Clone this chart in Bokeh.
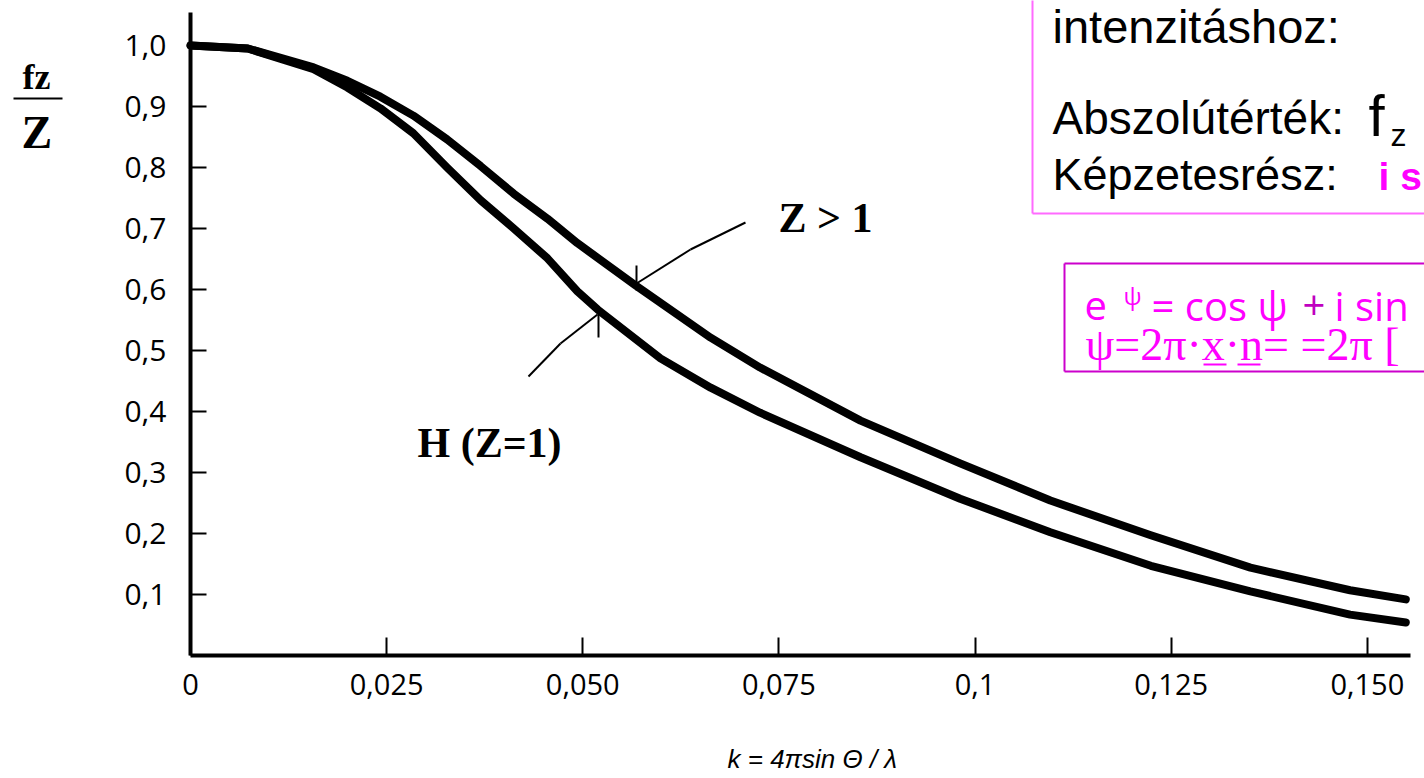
from bokeh.plotting import figure
from bokeh.models import Label, FixedTicker, Arrow, LinearAxis, Range1d
from bokeh.embed import file_html
from bokeh.resources import INLINE

# ---- data ----
k_zgt1 = [0.0, 0.0073, 0.0157, 0.0200, 0.0242, 0.0284, 0.0327, 0.0370, 0.0412, 0.0455,
          0.0493, 0.0567, 0.0663, 0.0726, 0.0854, 0.0981, 0.1096, 0.1224, 0.1351, 0.1478, 0.1549]
f_zgt1 = [1.0, 0.995, 0.964, 0.942, 0.916, 0.885, 0.846, 0.802, 0.757, 0.716,
          0.676, 0.607, 0.521, 0.472, 0.385, 0.315, 0.254, 0.197, 0.144, 0.107, 0.092]

k_h = [0.0, 0.0073, 0.0157, 0.0200, 0.0242, 0.0284, 0.0327, 0.0370, 0.0412, 0.0455, 0.0493,
       0.0519, 0.0599, 0.0663, 0.0726, 0.0854, 0.0981, 0.1096, 0.1224, 0.1351, 0.1478, 0.1549]
f_h = [1.0, 0.995, 0.961, 0.931, 0.897, 0.856, 0.800, 0.746, 0.700, 0.651, 0.597,
       0.567, 0.487, 0.439, 0.398, 0.325, 0.257, 0.202, 0.147, 0.105, 0.067, 0.054]

x_ticks = [0.0, 0.025, 0.05, 0.075, 0.1, 0.125, 0.15]
x_tick_labels = ["0", "0,025", "0,050", "0,075", "0,1", "0,125", "0,150"]
y_ticks = [0.1, 0.2, 0.3, 0.4, 0.5, 0.6, 0.7, 0.8, 0.9, 1.0]
y_tick_labels = ["0,1", "0,2", "0,3", "0,4", "0,5", "0,6", "0,7", "0,8", "0,9", "1,0"]

# ---- layout: the frame fills the canvas; axes sit at fixed locations ----
W, H = 1424, 778
AL, AR, AT, AB = 190, 1410, 12, 655      # pixel extent of the plotted axes
KMAX, FMAX = 0.1555, 1.054               # axis ends


def dx(px):
    return (px - AL) / (AR - AL) * KMAX


def dy(py):
    return (AB - py) / (AB - AT) * FMAX


p = figure(width=W, height=H,
           x_range=Range1d(dx(0), dx(W)), y_range=Range1d(dy(H), dy(0)),
           x_axis_location=None, y_axis_location=None, min_border=0,
           output_backend="svg", toolbar_location=None)
p.outline_line_color = None
for g in p.grid:
    g.visible = False
p.background_fill_color = "white"
p.border_fill_color = "white"

xaxis = LinearAxis(fixed_location=0, bounds=(0, KMAX), ticker=FixedTicker(ticks=x_ticks),
                   major_label_overrides=dict(zip(x_ticks, x_tick_labels)))
yaxis = LinearAxis(fixed_location=0, bounds=(0, FMAX), ticker=FixedTicker(ticks=y_ticks),
                   major_label_overrides=dict(zip(y_ticks, y_tick_labels)))
for ax in (xaxis, yaxis):
    ax.axis_line_width = 4
    ax.axis_line_color = "black"
    ax.major_tick_line_width = 2
    ax.major_tick_line_color = "black"
    ax.major_tick_out = 0
    ax.minor_tick_line_color = None
    ax.major_label_text_font = "Open Sans"
    ax.major_label_text_color = "black"
xaxis.major_label_text_font_size = "29px"
xaxis.major_tick_in = 18
xaxis.major_label_standoff = 18
yaxis.major_label_text_font_size = "30px"
yaxis.major_tick_in = 16
yaxis.major_label_standoff = 24
p.add_layout(xaxis, "below")
p.add_layout(yaxis, "left")

# ---- curves ----
p.line(k_zgt1, f_zgt1, line_width=8, line_color="black", line_join="round", line_cap="round")
p.line(k_h, f_h, line_width=8, line_color="black", line_join="round", line_cap="round")


def seg(x1, y1, x2, y2, color="black", width=2):
    p.add_layout(Arrow(x_start=dx(x1), y_start=dy(y1), x_end=dx(x2), y_end=dy(y2),
                       end=None, line_color=color, line_width=width))


def lab(px, py, text, font="Liberation Serif", size=42, style="bold", color="black"):
    # py is the wanted baseline in pixels; small empirical lift for the renderer
    p.add_layout(Label(x=dx(px), y=dy(py - 0.33 * size), text=text, text_font=font,
                       text_font_size=f"{size}px", text_font_style=style,
                       text_color=color, text_align="left", text_baseline="alphabetic"))


# leader lines
seg(745, 222, 690, 249)
seg(690, 249, 636, 283)
seg(636, 265, 636, 290)
seg(528, 376, 560, 343)
seg(560, 343, 597, 314)
seg(598, 312, 598, 337)

# curve labels
lab(778, 231, "Z > 1")
lab(417, 456, "H (Z=1)")

# y-axis title as a fraction
lab(22, 88, "fz", size=36)
seg(13, 98, 62, 98, width=2)
lab(21, 147, "Z", size=46)

# x-axis title
lab(727, 767, "k = 4πsin Θ / λ", font="Liberation Sans", size=26, style="italic")

# ---- right-hand text boxes ----
PINK = "#FF6AFF"
seg(1032, -10, 1032, 213, color=PINK, width=2)
seg(1032, 213, 1440, 213, color=PINK, width=2)
lab(1052, 42, "intenzitáshoz:", font="Liberation Sans", size=47, style="normal")
lab(1052, 133, "Abszolútérték:", font="Liberation Sans", size=46, style="normal")
lab(1368, 134, "f", font="Liberation Sans", size=58, style="normal")
lab(1390, 145, "z", font="Liberation Sans", size=32, style="normal")
lab(1052, 189, "Képzetesrész:", font="Liberation Sans", size=45, style="normal")
lab(1378, 189, "i s", font="Liberation Sans", size=39, style="bold", color="#FF00FF")

MAG = "#CC00CC"
seg(1064, 263, 1440, 263, color=MAG, width=2)
seg(1064, 263, 1064, 371, color=MAG, width=2)
seg(1064, 371, 1440, 371, color=MAG, width=2)
lab(1084, 318, "e", font="Open Sans", size=40, style="normal", color="#FF00FF")
lab(1123, 303, "ψ", font="Open Sans", size=24, style="normal", color="#FF00FF")
lab(1151, 318, "= cos ψ", font="Open Sans", size=40, style="normal", color="#FF00FF")
lab(1302, 318, "+", font="Open Sans", size=40, style="normal", color="#C000C0")
lab(1334, 318, "i sin", font="Open Sans", size=40, style="normal", color="#FF00FF")
lab(1085, 359, "ψ=2π·x·n= =2π [", font="Liberation Serif", size=46, style="normal",
    color="#FF00FF")
# underlines of the vectors x and n
seg(1203, 364, 1226, 364, color="#FF00FF", width=2)
seg(1237, 364, 1260, 364, color="#FF00FF", width=2)

html = file_html(p, INLINE)
open("out.html", "w").write(html)
